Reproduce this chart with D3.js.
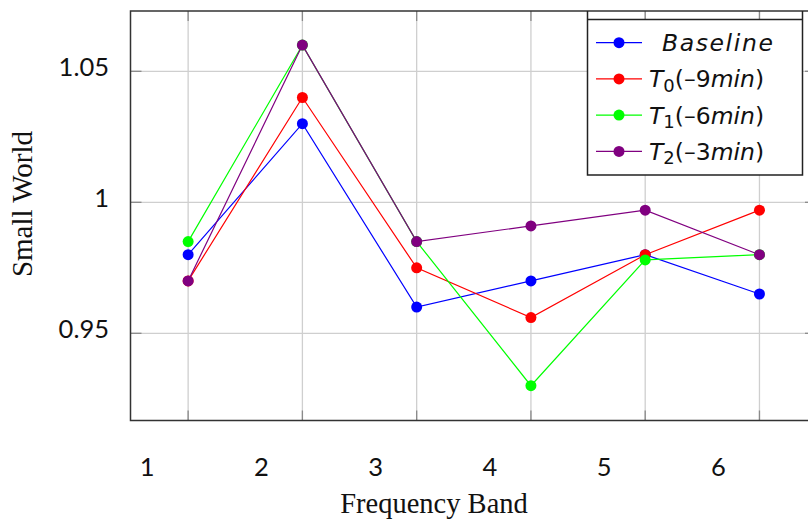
<!DOCTYPE html>
<html><head><meta charset="utf-8">
<script src="https://cdn.jsdelivr.net/npm/d3@7"></script>
<style>
html,body{margin:0;padding:0;background:#fff;}
svg{display:block;}
</style></head>
<body>
<svg id="chart" width="808" height="522"></svg>
<script>
// ---- data ----
const bands = [1, 2, 3, 4, 5, 6];
const baseline = [0.980, 1.030, 0.960, 0.970, 0.980, 0.965];
const t0 = [0.970, 1.040, 0.975, 0.956, 0.980, 0.997];
const t1 = [0.985, 1.060, 0.985, 0.930, 0.978, 0.980];
const t2 = [0.970, 1.060, 0.985, 0.991, 0.997, 0.980];
const yTicks = [0.95, 1, 1.05];
const yTickLabels = ["0.95", "1", "1.05"];
const xTicks = [1, 2, 3, 4, 5, 6];
const seriesNames = ["Baseline", "T0", "T1", "T2"];
const colors = ["#0000ff", "#ff0000", "#00ff00", "#800080"];

const series = [
  {name: "Baseline", values: baseline, color: colors[0]},
  {name: "T0", values: t0, color: colors[1], sub: "0", rest: "(\u20139", unit: "min"},
  {name: "T1", values: t1, color: colors[2], sub: "1", rest: "(\u20136", unit: "min"},
  {name: "T2", values: t2, color: colors[3], sub: "2", rest: "(\u20133", unit: "min"}
];

const svg = d3.select("#chart");
const L = 130.5, R = 816.6, T = 11, B = 420.5;
const x = d3.scaleLinear().domain([0.5, 6.5]).range([L + 0.5, R]);
const y = d3.scaleLinear().domain([0.91672, 1.07302]).range([B, T]);

// grid
const g = svg.append("g");
g.selectAll("line.vg").data(xTicks).join("line")
  .attr("x1", d => x(d)).attr("x2", d => x(d)).attr("y1", T).attr("y2", B)
  .attr("stroke", "#cfcfcf").attr("stroke-width", 1.3);
g.selectAll("line.hg").data(yTicks).join("line")
  .attr("x1", L).attr("x2", 808).attr("y1", d => y(d)).attr("y2", d => y(d))
  .attr("stroke", "#cfcfcf").attr("stroke-width", 1.3);

// tick marks (inside)
g.selectAll("line.tt").data(xTicks).join("line")
  .attr("x1", d => x(d)).attr("x2", d => x(d)).attr("y1", T).attr("y2", T + 10)
  .attr("stroke", "#8a8a8a").attr("stroke-width", 1.3);
g.selectAll("line.tb").data(xTicks).join("line")
  .attr("x1", d => x(d)).attr("x2", d => x(d)).attr("y1", B - 10).attr("y2", B)
  .attr("stroke", "#8a8a8a").attr("stroke-width", 1.3);
g.selectAll("line.tl").data(yTicks).join("line")
  .attr("x1", L).attr("x2", L + 11).attr("y1", d => y(d)).attr("y2", d => y(d))
  .attr("stroke", "#8a8a8a").attr("stroke-width", 1.3);
g.selectAll("line.tr").data(yTicks).join("line")
  .attr("x1", 805).attr("x2", 808).attr("y1", d => y(d)).attr("y2", d => y(d))
  .attr("stroke", "#8a8a8a").attr("stroke-width", 1.3);

// frame
svg.append("path")
  .attr("d", `M808,${T}H${L}V${B}H808`)
  .attr("fill", "none").attr("stroke", "#333").attr("stroke-width", 1.5);

// lines and markers
const line = d3.line().x((d, i) => x(bands[i])).y(d => y(d));
series.forEach(s => {
  svg.append("path").datum(s.values).attr("d", line)
    .attr("fill", "none").attr("stroke", s.color).attr("stroke-width", 1.2);
});
series.forEach(s => {
  svg.append("g").selectAll("circle").data(s.values).join("circle")
    .attr("cx", (d, i) => x(bands[i])).attr("cy", d => y(d)).attr("r", 5.5)
    .attr("fill", s.color);
});

// tick labels
svg.append("g").selectAll("text").data(yTicks).join("text")
  .attr("x", 109).attr("y", d => y(d) - 4).attr("dy", "0.35em")
  .attr("text-anchor", "end")
  .style("font-family", "Lato, 'Open Sans', sans-serif").style("font-size", "25.5px")
  .attr("fill", "#111")
  .text((d, i) => yTickLabels[i]);
svg.append("g").selectAll("text").data(xTicks).join("text")
  .attr("x", d => x(d) - 41).attr("y", 476)
  .attr("text-anchor", "middle")
  .style("font-family", "Lato, 'Open Sans', sans-serif").style("font-size", "25.5px")
  .attr("fill", "#111")
  .text(d => d);

// axis titles
svg.append("text").attr("x", 434).attr("y", 513).attr("text-anchor", "middle")
  .style("font-family", "'Liberation Serif', serif").style("font-size", "28.5px")
  .attr("fill", "#111").text("Frequency Band");
svg.append("text").attr("transform", "translate(32,204) rotate(-90)")
  .attr("text-anchor", "middle")
  .style("font-family", "'Liberation Serif', serif").style("font-size", "29px")
  .attr("fill", "#111").text("Small World");

// legend
const lg = svg.append("g");
lg.append("rect").attr("x", 587.5).attr("y", 19.5).attr("width", 215).attr("height", 155.5)
  .attr("fill", "#fff");
lg.append("path")
  .attr("d", "M587.5,11V175H802.5V11M587.5,19.5H802.5")
  .attr("fill", "none").attr("stroke", "#222").attr("stroke-width", 1.5);
const rowY = [42.7, 78.9, 115.1, 151.4];
series.forEach((s, i) => {
  const yy = rowY[i];
  lg.append("line").attr("x1", 596).attr("x2", 642).attr("y1", yy).attr("y2", yy)
    .attr("stroke", s.color).attr("stroke-width", 1.2);
  lg.append("circle").attr("cx", 619).attr("cy", yy).attr("r", 5.5).attr("fill", s.color);
  const t = lg.append("text").attr("y", yy).attr("dy", "0.36em")
    .style("font-family", "'DejaVu Sans', sans-serif").style("font-size", "23.5px")
    .attr("fill", "#111");
  if (i === 0) {
    t.attr("x", 662).style("font-style", "italic").style("letter-spacing", "1.6px").text(seriesNames[0]);
  } else {
    t.attr("x", 649);
    t.append("tspan").style("font-style", "italic").text("T");
    t.append("tspan").attr("dy", "0.25em").style("font-size", "18px").text(s.sub);
    t.append("tspan").attr("dy", "-0.19em").text(s.rest);
    t.append("tspan").style("font-style", "italic").text(s.unit);
    t.append("tspan").text(")");
  }
});
</script>
</body></html>
